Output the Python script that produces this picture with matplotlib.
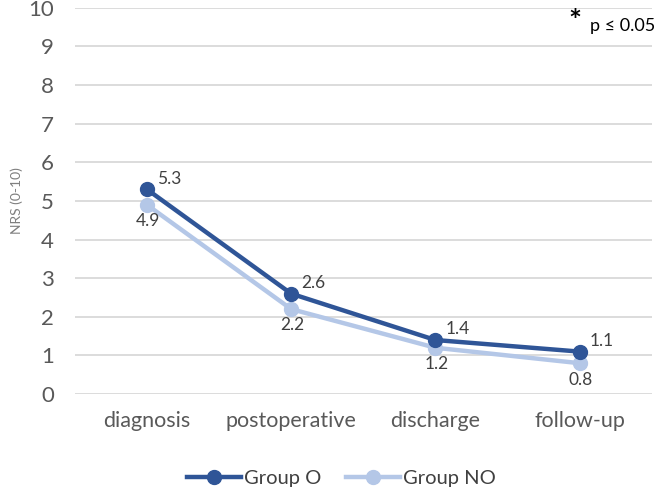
import matplotlib.pyplot as plt
import numpy as np

plt.rcParams['font.family'] = ['Lato', 'DejaVu Sans']

# datos
categorias = ['diagnosis', 'postoperative', 'discharge', 'follow-up']
grupo_o = [5.3, 2.6, 1.4, 1.1]
grupo_no = [4.9, 2.2, 1.2, 0.8]

color_o = '#2F5597'
color_no = '#B4C7E7'
gris = '#404040'

fig = plt.figure(figsize=(6.57, 4.92), dpi=100)
ax = fig.add_axes([0.114, 0.199, 0.878, 0.785])

x = np.arange(len(categorias))
ax.plot(x, grupo_o, color=color_o, lw=3.2, marker='o', ms=10, label='Group O', zorder=3)
ax.plot(x, grupo_no, color=color_no, lw=3.2, marker='o', ms=10, label='Group NO', zorder=2)

for xi, v in zip(x, grupo_o):
    ax.annotate(f'{v}', (xi, v), xytext=(7, 2), textcoords='offset points',
                ha='left', va='bottom', fontsize=12.5, color=gris)
for xi, v in zip(x, grupo_no):
    ax.annotate(f'{v}', (xi, v), xytext=(-8, -6), textcoords='offset points',
                ha='left', va='top', fontsize=12.5, color=gris)

ax.set_xlim(-0.5, 3.5)
ax.set_ylim(0, 10)
ax.set_yticks(range(0, 11))
ax.set_xticks(x)
ax.set_xticklabels(categorias)
ax.tick_params(axis='y', length=0, labelsize=16, colors='#595959', pad=15)
ax.tick_params(axis='x', length=0, labelsize=15.5, colors='#595959', pad=12)
ax.grid(axis='y', color='#D9D9D9', lw=1.3)
ax.set_axisbelow(True)
for s in ax.spines.values():
    s.set_visible(False)
ax.set_ylabel('NRS (0-10)', fontsize=10, color='#7F7F7F', labelpad=4)

fig.text(0.875, 0.955, '*', fontsize=22, fontweight='bold', color='black', ha='center', va='center')
fig.text(0.898, 0.947, 'p ≤ 0.05', fontsize=13, color='black', ha='left', va='center')

fig.legend(loc='center', bbox_to_anchor=(0.52, 0.028), ncol=2, frameon=False,
           fontsize=14.5, handlelength=2.7, handletextpad=0.15, columnspacing=1.2,
           labelcolor=gris)

fig.savefig('out.png', dpi=100)
